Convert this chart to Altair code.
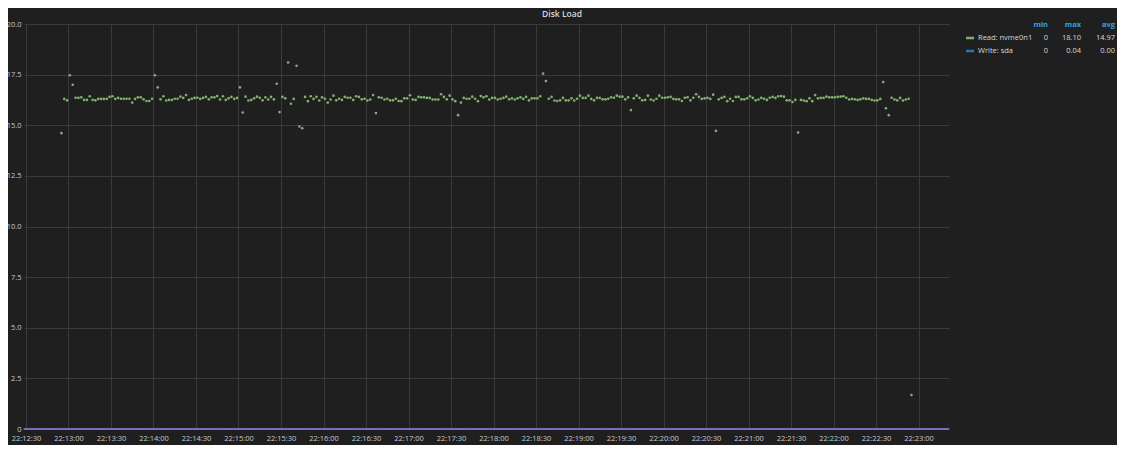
import altair as alt
import pandas as pd

# ---- Read: nvme0n1 values, one sample every 2 s starting 22:12:55 ----
read_values_a = [
    14.61, 16.30, 16.23, 17.47, 17.00, 16.36, 16.35, 16.38, 16.25, 16.25,
    16.43, 16.25, 16.23, 16.30, 16.30, 16.30, 16.30, 16.40, 16.43, 16.30,
    16.35, 16.31, 16.31, 16.31, 16.31, 16.12, 16.30, 16.38, 16.38, 16.28,
    16.20, 16.20, 16.31, 17.47, 16.87, 16.28, 16.43, 16.22, 16.25, 16.25,
    16.31, 16.31, 16.41, 16.35, 16.49, 16.25, 16.31, 16.35, 16.36, 16.30,
    16.35, 16.40, 16.28, 16.38, 16.38, 16.44, 16.27, 16.43, 16.25, 16.33,
    16.40, 16.30, 16.35, 16.87, 15.63, 16.41, 16.22, 16.25, 16.33, 16.41,
    16.36, 16.23, 16.38, 16.27, 16.40, 16.28, 17.05, 15.65, 16.40, 16.33,
    18.10, 16.06, 16.30, 17.94, 14.94, 14.85,
]
read_values_b = [
    16.40, 16.19, 16.43, 16.30, 16.40, 16.22, 16.38, 16.31, 16.12, 16.27,
    16.46, 16.23, 16.31, 16.25, 16.40, 16.36, 16.36, 16.25, 16.43, 16.40,
    16.28, 16.31, 16.22, 16.27, 16.49, 15.60, 16.38, 16.36, 16.27, 16.31,
    16.23, 16.23, 16.31, 16.20, 16.19, 16.33, 16.33, 16.48, 16.27, 16.25,
    16.40, 16.38, 16.38, 16.35, 16.35, 16.27, 16.27, 16.27, 16.53, 16.40,
    16.28, 16.46, 16.28, 16.19, 15.50, 16.12, 16.35, 16.31, 16.31, 16.41,
    16.31, 16.19, 16.44, 16.38, 16.43, 16.27, 16.35, 16.35, 16.27, 16.31,
    16.35, 16.41, 16.28, 16.33, 16.27, 16.33, 16.38, 16.30, 16.40, 16.23,
    16.33, 16.33, 16.33, 16.43, 17.55,
]
read_values_c = [
    17.18, 16.31, 16.40, 16.22, 16.20, 16.23, 16.35, 16.23, 16.23, 16.33,
    16.22, 16.31, 16.46, 16.35, 16.35, 16.46, 16.30, 16.23, 16.35, 16.35,
    16.28, 16.28, 16.31, 16.38, 16.36, 16.46, 16.41, 16.41, 16.28, 16.38,
    15.75, 16.33, 16.46, 16.35, 16.23, 16.25, 16.46, 16.27, 16.22, 16.31,
    16.46, 16.36, 16.36, 16.38, 16.40, 16.30, 16.28, 16.28, 16.20, 16.36,
    16.38, 16.23, 16.36, 16.53, 16.40, 16.30, 16.33, 16.35, 16.30, 16.51,
    14.72, 16.28, 16.35, 16.40, 16.19, 16.31, 16.20, 16.40, 16.40, 16.28,
    16.28, 16.33, 16.43, 16.35, 16.23, 16.27, 16.35, 16.31, 16.25, 16.36,
    16.40, 16.35, 16.43, 16.44, 16.41, 16.23, 16.23, 16.15, 16.25, 14.64,
]
read_values_d = [
    16.25, 16.22, 16.19, 16.33, 16.19, 16.49, 16.33, 16.35, 16.35, 16.41,
    16.38, 16.38, 16.38, 16.40, 16.41, 16.43, 16.36, 16.27, 16.30, 16.28,
    16.25, 16.28, 16.33, 16.30, 16.30, 16.25, 16.22, 16.23, 16.30, 17.13,
    15.84, 15.50, 16.36, 16.27, 16.23, 16.35, 16.22, 16.27, 16.31, 1.68,
]
read_values = read_values_a + read_values_b + read_values_c + read_values_d
read_start = "2024-01-01 22:12:55"
read_step = "2s"

# ---- flat zero trace along the bottom, one sample per second ----
zero_start = "2024-01-01 22:12:29"
zero_end = "2024-01-01 22:23:21"

# ---- axes ----
tick_labels = [
    "22:12:30", "22:13:00", "22:13:30", "22:14:00", "22:14:30", "22:15:00",
    "22:15:30", "22:16:00", "22:16:30", "22:17:00", "22:17:30", "22:18:00",
    "22:18:30", "22:19:00", "22:19:30", "22:20:00", "22:20:30", "22:21:00",
    "22:21:30", "22:22:00", "22:22:30", "22:23:00",
]
y_ticks = [0, 2.5, 5.0, 7.5, 10.0, 12.5, 15.0, 17.5, 20.0]

# ---- legend table ----
legend_header = ["min", "max", "avg"]
legend_names = ["Read: nvme0n1", "Write: sda"]
legend_colors = ["#7eb26d", "#1f78c1"]
legend_min = ["0", "0"]
legend_max = ["18.10", "0.04"]
legend_avg = ["14.97", "0.00"]

title_text = "Disk Load"

FONT = "Open Sans"
BG = "#1f1f20"
TXT = "#d8d9da"

read_times = pd.date_range(read_start, periods=len(read_values), freq=read_step)
read_df = pd.DataFrame({
    "t": read_times.strftime("%Y-%m-%dT%H:%M:%S"),
    "v": read_values,
})
zero_times = pd.date_range(zero_start, zero_end, freq="1s")
zero_df = pd.DataFrame({
    "t": zero_times.strftime("%Y-%m-%dT%H:%M:%S"),
    "v": [0.0] * len(zero_times),
})


def dt(hms, ms=0):
    h, m, s = (int(p) for p in hms.split(":"))
    return alt.DateTime(year=2024, month=1, date=1, hours=h, minutes=m,
                        seconds=s, milliseconds=ms)


x_enc = alt.X(
    "t:T",
    title=None,
    scale=alt.Scale(domain=[dt("22:12:28", 600), dt("22:23:21", 500)]),
    axis=alt.Axis(
        values=[dt(t) for t in tick_labels],
        format="%H:%M:%S",
        labelFlush=False,
        labelOverlap=False,
    ),
)
y_enc = alt.Y(
    "v:Q",
    title=None,
    scale=alt.Scale(domain=[0, 20], nice=False, zero=True),
    axis=alt.Axis(
        values=y_ticks,
        labelExpr="datum.value == 0 ? '0' : format(datum.value, '.1f')",
    ),
)

zero_layer = alt.Chart(zero_df).mark_circle(
    size=5, color="#8b6fcc", opacity=1
).encode(x=x_enc, y=y_enc)

read_layer = alt.Chart(read_df).mark_circle(
    size=7, color="#7eb26d", opacity=1
).encode(x=x_enc, y=y_enc)

one = pd.DataFrame({"k": [0]})

title_layer = alt.Chart(one).mark_text(
    text=title_text, font=FONT, fontSize=8.5, fontWeight=600,
    color=TXT, align="center", baseline="middle"
).encode(x=alt.value(538), y=alt.value(-10))

layers = [zero_layer, read_layer, title_layer]

col_right = [1024, 1057, 1091]
for i, h in enumerate(legend_header):
    layers.append(
        alt.Chart(one).mark_text(
            text=h, font=FONT, fontSize=7.5, fontWeight="bold",
            color="#33a2e5", align="right", baseline="middle"
        ).encode(x=alt.value(col_right[i]), y=alt.value(1))
    )

for r in range(len(legend_names)):
    ry = 14 + 13 * r
    row_df = pd.DataFrame({
        "name": [legend_names[r]],
        "mn": [legend_min[r]],
        "mx": [legend_max[r]],
        "av": [legend_avg[r]],
    })
    base = alt.Chart(row_df)
    layers.append(
        base.mark_rule(color=legend_colors[r], strokeWidth=2.5).encode(
            x=alt.value(942), x2=alt.value(950), y=alt.value(ry)
        )
    )
    layers.append(
        base.mark_text(font=FONT, fontSize=7.5, color=TXT, align="left",
                       baseline="middle").encode(
            text="name:N", x=alt.value(954), y=alt.value(ry)
        )
    )
    for field, cx in zip(["mn", "mx", "av"], col_right):
        layers.append(
            base.mark_text(font=FONT, fontSize=7.5, color=TXT, align="right",
                           baseline="middle").encode(
                text=f"{field}:N", x=alt.value(cx), y=alt.value(ry)
            )
        )

chart = alt.layer(*layers).properties(
    width=925,
    height=405,
    autosize=alt.AutoSizeParams(type="none"),
    padding={"left": 16, "top": 16, "right": 168, "bottom": 16},
    background=BG,
).configure_view(
    strokeWidth=0,
).configure_axis(
    grid=True,
    gridColor="#3a3a3b",
    gridWidth=1,
    domain=False,
    ticks=False,
    tickSize=0,
    labelColor="#c7c9cb",
    labelFont=FONT,
    labelFontSize=7.5,
).configure_axisX(
    labelPadding=5,
).configure_axisY(
    labelPadding=3,
)

chart.save("out.html", embed_options={"renderer": "svg", "actions": False})
